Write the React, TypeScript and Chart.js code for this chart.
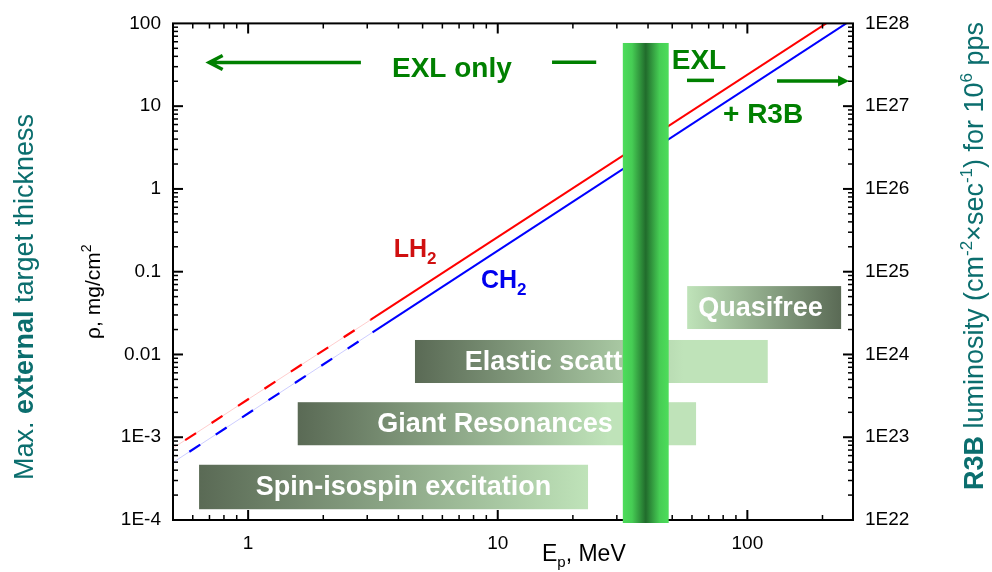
import React, { useEffect, useRef } from 'react';
import { Chart, registerables } from 'chart.js';

Chart.register(...registerables);

// ---------- data ----------
const energyMin = 0.5;
const energyMax = 265;
const rhoMin = 1e-4;
const rhoMax = 100;
const lumMin = 1e22;
const lumMax = 1e28;

const xTickValues = [1, 10, 100];
const xTickLabels = ['1', '10', '100'];
const yTickValues = [1e-4, 1e-3, 0.01, 0.1, 1, 10, 100];
const yTickLabels = ['1E-4', '1E-3', '0.01', '0.1', '1', '10', '100'];
const y2TickValues = [1e22, 1e23, 1e24, 1e25, 1e26, 1e27, 1e28];
const y2TickLabels = ['1E22', '1E23', '1E24', '1E25', '1E26', '1E27', '1E28'];

// LH2 (red): dashed (extrapolated) part and solid part
const lh2DashedE = [0.5, 3.1];
const lh2DashedRho = [7.4e-4, 0.0263];
const lh2SolidE = [3.1, 207];
const lh2SolidRho = [0.0263, 100];
// CH2 (blue)
const ch2DashedE = [0.5, 3.15];
const ch2DashedRho = [4.96e-4, 0.0185];
const ch2SolidE = [3.15, 249];
const ch2SolidRho = [0.0185, 100];

// physics regions (energy range x thickness range)
const regionNames = ['Spin-isospin excitation', 'Giant Resonances', 'Elastic scatt', 'Quasifree'];
const regionEmin = [0.636, 1.58, 4.66, 57.4];
const regionEmax = [23.0, 62.3, 120.7, 237.5];
const regionRhoLow = [1.35e-4, 8.0e-4, 4.52e-3, 0.0203];
const regionRhoHigh = [4.65e-4, 2.65e-3, 0.01496, 0.067];
const regionLabelE = [4.19, 9.75, 15.25, 113];

// EXL / R3B overlap band
const bandE = [31.7, 48.4];
const bandTopRho = 58;

// annotation anchors (data coords)
const exlOnlyLabel = { e: 6.55, rho: 22.5 };
const leftArrow = { eTail: 2.83, eTip: 0.698, rho: 33.7 };
const dashMark = { e1: 16.5, e2: 24.8, rho: 33.9 };
const exlLabel = { e: 64.0, rho: 28.3 };
const exlUnderline = { e1: 57.3, e2: 73.5, rho: 20.5 };
const r3bLabel = { e: 115.6, rho: 6.32 };
const rightArrow = { eTail: 131.5, eTip: 255.6, rho: 20.2 };
const lh2Label = { e: 3.83, rho: 0.152 };
const ch2Label = { e: 8.56, rho: 0.064 };

// ---------- helpers ----------
const FAMILY = "'Liberation Sans', Arial, sans-serif";
const GREEN = '#008000';
const TEAL = '#0b6e6e';

const near = (a: number, b: number) => Math.abs(Math.log10(a) - Math.log10(b)) < 1e-6;
const labelFor = (vals: number[], labels: string[]) => (v: any) => {
  const n = Number(v);
  for (let i = 0; i < vals.length; i++) if (near(n, vals[i])) return labels[i];
  return '';
};
const zip = (xs: number[], ys: number[]) => xs.map((x, i) => ({ x, y: ys[i] }));

type Seg = { t: string; size: number; bold?: boolean; dy?: number };
const fontOf = (s: Seg) => `${s.bold ? 'bold ' : ''}${s.size}px ${FAMILY}`;
function drawRich(ctx: CanvasRenderingContext2D, segs: Seg[], x: number, y: number, align: 'left' | 'center', rot: boolean, color: string) {
  ctx.save();
  ctx.translate(x, y);
  if (rot) ctx.rotate(-Math.PI / 2);
  let w = 0;
  for (const s of segs) { ctx.font = fontOf(s); w += ctx.measureText(s.t).width; }
  let cx = align === 'center' ? -w / 2 : 0;
  ctx.fillStyle = color;
  ctx.textAlign = 'left';
  ctx.textBaseline = 'alphabetic';
  for (const s of segs) {
    ctx.font = fontOf(s);
    ctx.fillText(s.t, cx, s.dy || 0);
    cx += ctx.measureText(s.t).width;
  }
  ctx.restore();
}
const sigOf = (v: number) => {
  const e = Math.floor(Math.log10(v) + 1e-9);
  const s = v / Math.pow(10, e);
  return Math.abs(s - Math.round(s)) < 1e-6 ? Math.round(s) : 0;
};

const DARK = '#5a6a55';
const LIGHT = '#bfe3b9';
const regionGradients: [number, string][][] = [
  [[0, DARK], [1, LIGHT]],
  [[0, DARK], [0.78, LIGHT], [1, LIGHT]],
  [[0, DARK], [0.76, LIGHT], [1, LIGHT]],
  [[0, LIGHT], [1, DARK]],
];

const overlayPlugin = {
  id: 'overlay',
  afterDraw(chart: any) {
    const ctx: CanvasRenderingContext2D = chart.ctx;
    const { left, right, top, bottom } = chart.chartArea;
    const xs = chart.scales.x, ys = chart.scales.y, y2 = chart.scales.y2;
    const X = (e: number) => xs.getPixelForValue(e);
    const Y = (r: number) => ys.getPixelForValue(r);
    ctx.save();

    // frame + inward ticks
    ctx.strokeStyle = '#000';
    ctx.lineCap = 'butt';
    for (const t of xs.ticks) {
      const s = sigOf(t.value); if (!s) continue;
      const px = xs.getPixelForValue(t.value);
      if (px <= left + 1 || px >= right - 1) continue;
      const len = s === 1 ? 10 : 5;
      ctx.lineWidth = s === 1 ? 2 : 1.5;
      ctx.beginPath();
      ctx.moveTo(px, bottom); ctx.lineTo(px, bottom - len);
      ctx.moveTo(px, top); ctx.lineTo(px, top + len);
      ctx.stroke();
    }
    for (const t of ys.ticks) {
      const s = sigOf(t.value); if (!s) continue;
      const py = ys.getPixelForValue(t.value);
      if (py <= top + 1 || py >= bottom - 1) continue;
      const len = s === 1 ? 10 : 5;
      ctx.lineWidth = s === 1 ? 2 : 1.5;
      ctx.beginPath(); ctx.moveTo(left, py); ctx.lineTo(left + len, py); ctx.stroke();
    }
    for (const t of y2.ticks) {
      const s = sigOf(t.value); if (!s) continue;
      const py = y2.getPixelForValue(t.value);
      if (py <= top + 1 || py >= bottom - 1) continue;
      const len = s === 1 ? 10 : 5;
      ctx.lineWidth = s === 1 ? 2 : 1.5;
      ctx.beginPath(); ctx.moveTo(right, py); ctx.lineTo(right - len, py); ctx.stroke();
    }
    ctx.lineWidth = 2;
    ctx.strokeRect(left, top, right - left, bottom - top);

    // region boxes
    for (let i = 0; i < regionNames.length; i++) {
      const x1 = X(regionEmin[i]), x2 = X(regionEmax[i]);
      const yA = Y(regionRhoHigh[i]), yB = Y(regionRhoLow[i]);
      const g = ctx.createLinearGradient(x1, 0, x2, 0);
      for (const [o, c] of regionGradients[i]) g.addColorStop(o, c);
      ctx.fillStyle = g;
      ctx.fillRect(x1, yA, x2 - x1, yB - yA);
      ctx.fillStyle = '#ffffff';
      ctx.font = `bold 27px ${FAMILY}`;
      ctx.textAlign = 'center';
      ctx.textBaseline = 'middle';
      ctx.fillText(regionNames[i], X(regionLabelE[i]), (yA + yB) / 2 + 1);
    }

    // EXL band
    const bx1 = X(bandE[0]), bx2 = X(bandE[1]);
    const by = Y(bandTopRho);
    const bg = ctx.createLinearGradient(bx1, 0, bx2, 0);
    bg.addColorStop(0, '#4ddd5b');
    bg.addColorStop(0.2, '#46cd54');
    bg.addColorStop(0.5, '#216c2c');
    bg.addColorStop(0.8, '#46cd54');
    bg.addColorStop(1, '#4ddd5b');
    ctx.fillStyle = bg;
    ctx.fillRect(bx1, by, bx2 - bx1, bottom + 3 - by);

    // green annotations
    ctx.strokeStyle = GREEN;
    ctx.fillStyle = GREEN;
    ctx.lineWidth = 3.5;
    {
      const ty = Y(leftArrow.rho), tip = X(leftArrow.eTip), tail = X(leftArrow.eTail);
      ctx.beginPath();
      ctx.moveTo(tail, ty); ctx.lineTo(tip + 1, ty);
      ctx.moveTo(tip + 13.5, ty - 7); ctx.lineTo(tip, ty); ctx.lineTo(tip + 13.5, ty + 7);
      ctx.stroke();
    }
    {
      const dy = Y(dashMark.rho);
      ctx.beginPath(); ctx.moveTo(X(dashMark.e1), dy); ctx.lineTo(X(dashMark.e2), dy); ctx.stroke();
    }
    {
      const uy = Y(exlUnderline.rho);
      ctx.beginPath(); ctx.moveTo(X(exlUnderline.e1), uy); ctx.lineTo(X(exlUnderline.e2), uy); ctx.stroke();
    }
    {
      const ay = Y(rightArrow.rho), tip = X(rightArrow.eTip), tail = X(rightArrow.eTail);
      ctx.beginPath(); ctx.moveTo(tail, ay); ctx.lineTo(tip - 8, ay); ctx.stroke();
      ctx.beginPath(); ctx.moveTo(tip, ay); ctx.lineTo(tip - 11, ay - 5.5); ctx.lineTo(tip - 11, ay + 5.5); ctx.closePath(); ctx.fill();
    }
    drawRich(ctx, [{ t: 'EXL only', size: 28, bold: true }], X(exlOnlyLabel.e), Y(exlOnlyLabel.rho), 'center', false, GREEN);
    drawRich(ctx, [{ t: 'EXL', size: 28, bold: true }], X(exlLabel.e), Y(exlLabel.rho), 'center', false, GREEN);
    drawRich(ctx, [{ t: '+ R3B', size: 28, bold: true }], X(r3bLabel.e), Y(r3bLabel.rho), 'center', false, GREEN);

    // line labels
    drawRich(ctx, [{ t: 'LH', size: 25, bold: true }, { t: '2', size: 17, bold: true, dy: 7 }], X(lh2Label.e), Y(lh2Label.rho), 'left', false, '#d01010');
    drawRich(ctx, [{ t: 'CH', size: 25, bold: true }, { t: '2', size: 17, bold: true, dy: 7 }], X(ch2Label.e), Y(ch2Label.rho), 'left', false, '#0000ee');

    // axis titles
    drawRich(ctx, [{ t: 'E', size: 23 }, { t: 'p', size: 15, dy: 6 }, { t: ', MeV', size: 23 }], left + 369, bottom + 41, 'left', false, '#000');
    drawRich(ctx, [{ t: '\u03C1, mg/cm', size: 21 }, { t: '2', size: 14, dy: -9 }], 100, (top + bottom) / 2 + 20, 'center', true, '#000');
    drawRich(ctx, [{ t: 'Max. ', size: 27 }, { t: 'external', size: 27, bold: true }, { t: ' target thickness', size: 27 }], 33, 297, 'center', true, TEAL);
    drawRich(ctx, [
      { t: 'R3B', size: 27, bold: true },
      { t: ' luminosity (cm', size: 27 },
      { t: '-2', size: 17, dy: -11 },
      { t: '\u00D7sec', size: 27 },
      { t: '-1', size: 17, dy: -11 },
      { t: ') for 10', size: 27 },
      { t: '6', size: 17, dy: -11 },
      { t: ' pps', size: 27 },
    ], 983, 256, 'center', true, TEAL);

    ctx.restore();
  },
};

export default function App() {
  const ref = useRef<HTMLCanvasElement | null>(null);
  useEffect(() => {
    if (!ref.current) return;
    Chart.defaults.font.family = FAMILY;
    const tickFont = { size: 19, family: FAMILY };
    const chart = new Chart(ref.current, {
      type: 'line',
      data: {
        datasets: [
          { data: zip(lh2DashedE, lh2DashedRho), borderColor: 'rgba(255,0,0,0.25)', borderWidth: 0.8 },
          { data: zip(lh2DashedE, lh2DashedRho), borderColor: '#ff0000', borderWidth: 2.2, borderDash: [13, 18.5], borderDashOffset: 17 },
          { data: zip(lh2SolidE, lh2SolidRho), borderColor: '#ff0000', borderWidth: 2 },
          { data: zip(ch2DashedE, ch2DashedRho), borderColor: 'rgba(0,0,255,0.25)', borderWidth: 0.8 },
          { data: zip(ch2DashedE, ch2DashedRho), borderColor: '#0000ff', borderWidth: 2.2, borderDash: [13, 18.5], borderDashOffset: 12 },
          { data: zip(ch2SolidE, ch2SolidRho), borderColor: '#0000ff', borderWidth: 2 },
        ] as any,
      },
      options: {
        responsive: false,
        animation: false,
        devicePixelRatio: 1,
        layout: { padding: { top: 19, left: 0, right: 0, bottom: 0 } },
        elements: { point: { radius: 0 }, line: { tension: 0 } },
        plugins: { legend: { display: false }, tooltip: { enabled: false } },
        scales: {
          x: {
            type: 'logarithmic', position: 'bottom', min: energyMin, max: energyMax,
            grid: { display: false, drawTicks: false }, border: { display: false },
            ticks: { autoSkip: false, maxRotation: 0, padding: 12, color: '#000', font: tickFont, callback: labelFor(xTickValues, xTickLabels) },
            afterFit: (s: any) => { s.height = 52; },
          },
          y: {
            type: 'logarithmic', position: 'left', min: rhoMin, max: rhoMax,
            grid: { display: false, drawTicks: false }, border: { display: false },
            ticks: { autoSkip: false, padding: 12, color: '#000', font: tickFont, callback: labelFor(yTickValues, yTickLabels) },
            afterFit: (s: any) => { s.width = 173; },
          },
          y2: {
            type: 'logarithmic', position: 'right', min: lumMin, max: lumMax,
            grid: { display: false, drawTicks: false }, border: { display: false },
            ticks: { autoSkip: false, padding: 12, color: '#000', font: tickFont, callback: labelFor(y2TickValues, y2TickLabels) },
            afterFit: (s: any) => { s.width = 139; },
          },
        },
      } as any,
      plugins: [overlayPlugin],
    });
    return () => chart.destroy();
  }, []);
  return (
    <div style={{ position: 'absolute', left: 0, top: 0, width: 992, height: 572, background: '#fff' }}>
      <canvas ref={ref} width={992} height={572} style={{ display: 'block', width: 992, height: 572 }} />
    </div>
  );
}
